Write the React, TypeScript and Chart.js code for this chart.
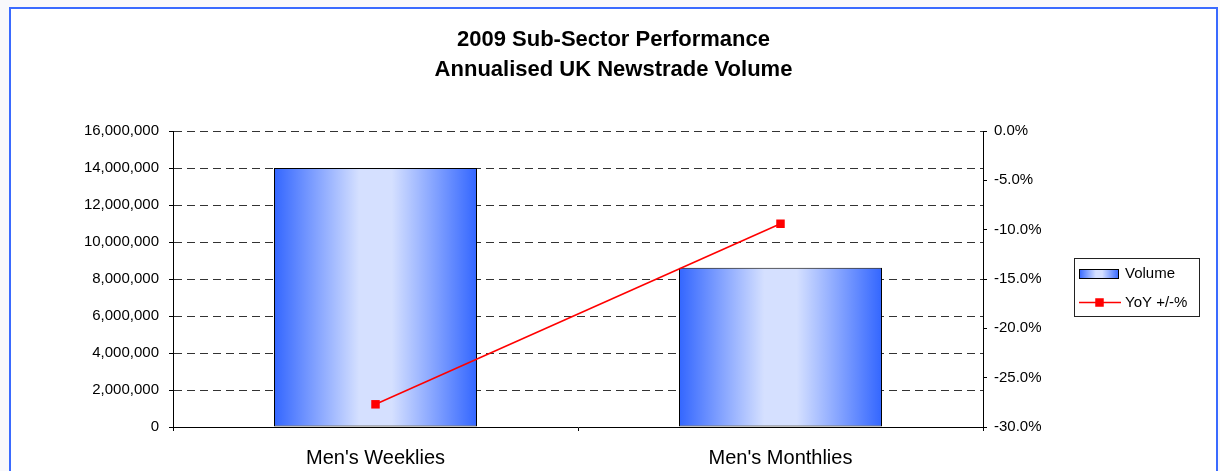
import { useEffect, useRef } from 'react';
import { Chart, registerables } from 'chart.js';

Chart.register(...registerables);

const titleLines = ['2009 Sub-Sector Performance', 'Annualised UK Newstrade Volume'];
const categories = ["Men's Weeklies", "Men's Monthlies"];
const seriesLabels = ['Volume', 'YoY +/-%'];
const volumeValues = [14000000, 8610000];
const yoyValues = [-27.7, -9.4];
const volumeAxis = [0, 16000000, 2000000];
const yoyAxis = [-30, 0, 5];

const FONT = '"Liberation Sans", Arial, sans-serif';
const BLUE = '#3366FF';
const LIGHT = '#D5E0FF';
const BAR_FRACTION = 203 / 405;

function makeGradient(ctx: CanvasRenderingContext2D, left: number, right: number) {
  const g = ctx.createLinearGradient(left, 0, right, 0);
  g.addColorStop(0, BLUE);
  g.addColorStop(0.42, LIGHT);
  g.addColorStop(0.58, LIGHT);
  g.addColorStop(1, BLUE);
  return g;
}

const legendPlugin = {
  id: 'boxLegend',
  afterDraw(chart: any) {
    const ctx: CanvasRenderingContext2D = chart.ctx;
    const ca = chart.chartArea;
    const bx = ca.right + 91;
    const by = 249;
    ctx.save();
    ctx.fillStyle = '#FFFFFF';
    ctx.fillRect(bx + 0.5, by + 0.5, 125, 58);
    ctx.strokeStyle = '#222';
    ctx.lineWidth = 1;
    ctx.strokeRect(bx + 0.5, by + 0.5, 125, 58);

    const sx = bx + 5;
    ctx.fillStyle = makeGradient(ctx, sx, sx + 40);
    ctx.fillRect(sx, by + 11, 40, 10);
    ctx.strokeStyle = '#000';
    ctx.strokeRect(sx + 0.5, by + 11.5, 39, 9);

    ctx.fillStyle = '#000';
    ctx.font = '15px ' + FONT;
    ctx.textBaseline = 'middle';
    ctx.textAlign = 'left';
    ctx.fillText(seriesLabels[0], bx + 51, by + 16);

    const ly = by + 44.5;
    ctx.strokeStyle = '#FF0000';
    ctx.lineWidth = 1.5;
    ctx.beginPath();
    ctx.moveTo(sx, ly);
    ctx.lineTo(sx + 42, ly);
    ctx.stroke();
    ctx.fillStyle = '#FF0000';
    ctx.fillRect(sx + 20.5 - 4.25, ly - 4.25, 8.5, 8.5);
    ctx.fillStyle = '#000';
    ctx.fillText(seriesLabels[1], bx + 51, ly);
    ctx.restore();
  },
};

export default function App() {
  const canvasRef = useRef<HTMLCanvasElement>(null);

  useEffect(() => {
    const canvas = canvasRef.current;
    if (!canvas) return;
    const chart = new Chart(canvas, {
      type: 'bar',
      data: {
        labels: categories,
        datasets: [
          {
            type: 'line',
            label: seriesLabels[1],
            data: yoyValues,
            yAxisID: 'y1',
            borderColor: '#FF0000',
            backgroundColor: '#FF0000',
            borderWidth: 1.5,
            pointStyle: 'rect',
            pointRadius: 6,
            pointBorderWidth: 0,
            order: 0,
          } as any,
          {
            type: 'bar',
            label: seriesLabels[0],
            data: volumeValues,
            yAxisID: 'y',
            borderColor: '#000000',
            borderWidth: 1,
            borderSkipped: false,
            inflateAmount: 0,
            barPercentage: BAR_FRACTION,
            categoryPercentage: 1,
            order: 1,
            backgroundColor: (c: any) => {
              const chart = c.chart;
              const xs = chart.scales && chart.scales.x;
              if (!xs || c.dataIndex === undefined || !xs.width) return BLUE;
              const center = xs.getPixelForValue(c.dataIndex);
              const half = (xs.width / categories.length) * BAR_FRACTION / 2;
              return makeGradient(chart.ctx, center - half, center + half);
            },
          } as any,
        ],
      },
      options: {
        animation: false,
        responsive: true,
        maintainAspectRatio: false,
        layout: { padding: 0 },
        plugins: {
          legend: { display: false },
          tooltip: { enabled: false },
          title: {
            display: true,
            text: titleLines,
            color: '#000',
            font: { family: FONT, size: 22, weight: 'bold', lineHeight: 30 / 22 },
            padding: { top: 16, bottom: 46 },
          },
        },
        scales: {
          x: {
            type: 'category',
            offset: true,
            grid: {
              offset: true,
              drawOnChartArea: false,
              drawTicks: true,
              tickLength: 4,
              tickColor: '#000',
            },
            border: { display: true, color: '#000', width: 1 },
            ticks: {
              color: '#000',
              font: { family: FONT, size: 20 },
              padding: 15,
              maxRotation: 0,
            },
            afterFit: (s: any) => {
              s.height = 44;
            },
          },
          y: {
            type: 'linear',
            position: 'left',
            min: volumeAxis[0],
            max: volumeAxis[1],
            grid: {
              color: (c: any) => (c.tick && c.tick.value === 0 ? 'rgba(0,0,0,0)' : '#333'),
              tickColor: '#000',
              tickLength: 4,
              drawTicks: true,
            },
            border: { display: true, color: '#000', width: 1, dash: [8, 5] },
            ticks: {
              stepSize: volumeAxis[2],
              color: '#000',
              font: { family: FONT, size: 15 },
              padding: 10,
              callback: (v: any) => Number(v).toLocaleString('en-US'),
            },
            afterFit: (s: any) => {
              s.width = 162;
            },
          },
          y1: {
            type: 'linear',
            position: 'right',
            min: yoyAxis[0],
            max: yoyAxis[1],
            grid: {
              drawOnChartArea: false,
              drawTicks: true,
              tickLength: 4,
              tickColor: '#000',
            },
            border: { display: true, color: '#000', width: 1 },
            ticks: {
              stepSize: yoyAxis[2],
              color: '#000',
              font: { family: FONT, size: 15 },
              padding: 7,
              callback: (v: any) => Number(v).toFixed(1) + '%',
            },
            afterFit: (s: any) => {
              s.width = 233;
            },
          },
        },
      } as any,
      plugins: [legendPlugin],
    });
    return () => chart.destroy();
  }, []);

  return (
    <div
      style={{
        position: 'absolute',
        left: 0,
        top: 0,
        width: 1220,
        height: 471,
        overflow: 'hidden',
        background: '#F8F8FB',
      }}
    >
      <div
        style={{
          position: 'absolute',
          left: 9,
          top: 7,
          width: 1205,
          height: 480,
          border: '2px solid #3A6AFF',
          background: '#FFFFFF',
        }}
      >
        <div style={{ position: 'relative', width: 1205, height: 462 }}>
          <canvas ref={canvasRef} />
        </div>
      </div>
    </div>
  );
}
